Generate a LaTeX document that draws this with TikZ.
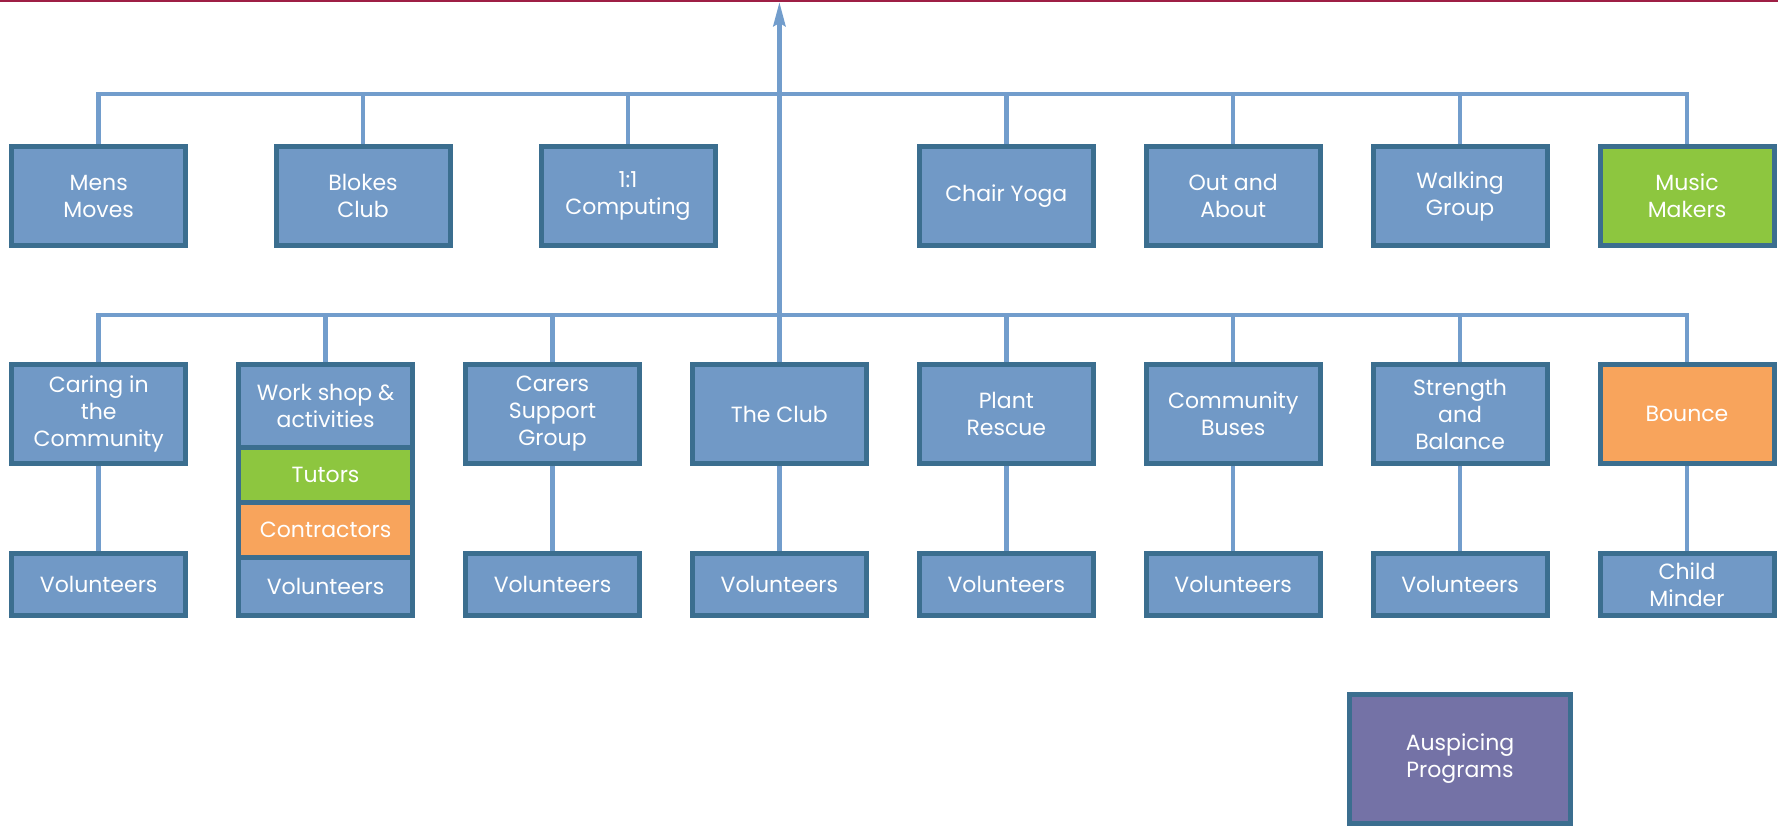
\documentclass[tikz,border=0pt]{standalone}
\usepackage{fontspec}
\setmainfont{Poppins}
\usetikzlibrary{positioning,arrows.meta}

\definecolor{boxblue}{HTML}{7199C6}
\definecolor{boxedge}{HTML}{3B6E8F}
\definecolor{busblue}{HTML}{729DCC}
\definecolor{boxgreen}{HTML}{8DC63F}
\definecolor{boxorange}{HTML}{F8A45C}
\definecolor{boxpurple}{HTML}{7472A6}
\definecolor{topred}{HTML}{9E1F45}

\tikzset{
  prog/.style={draw=boxedge, fill=boxblue, line width=5pt, text=white,
    align=center, minimum width=174pt, minimum height=99pt, inner sep=0pt,
    font=\fontsize{22}{27}\selectfont},
  vol/.style={prog, minimum height=62pt},
  bus/.style={draw=busblue, line width=4.5pt}
}

\begin{document}
\begin{tikzpicture}[x=1pt, y=-1pt]
\useasboundingbox (0,0) rectangle (1778,825);

% Linie oben
\draw[topred, line width=2pt] (0,1) -- (1778,1);

\coordinate (ub) at (0,94);
\coordinate (lb) at (0,315);

% obere Reihe
\node[prog] (mens)     at (98.7,196)  {Mens\\Moves};
\node[prog] (blokes)   at (363,196)   {Blokes\\Club};
\node[prog] (comp)     at (628,196)   {1:1\\Computing};
\node[prog] (yoga)     at (1006.3,196) {Chair Yoga};
\node[prog] (outabout) at (1233.2,196) {Out and\\About};
\node[prog] (walking)  at (1460.1,196) {Walking\\Group};
\node[prog, fill=boxgreen] (music) at (1687,196) {Music\\Makers};

% mittlere Reihe
\node[prog] (caring)   at (98.7,414)  {Caring in\\the\\Community};
\node[prog, minimum height=83pt] (works) at (325.6,406) {Work shop \&\\activities};
\node[prog, minimum height=55pt, fill=boxgreen, below=-5pt of works] (tutors) {Tutors};
\node[prog, minimum height=55pt, fill=boxorange, below=-5pt of tutors] (contr) {Contractors};
\node[prog, minimum height=58pt, below=-5pt of contr] (worksvol) {Volunteers};
\node[prog] (carers)   at (552.5,414) {Carers\\Support\\Group};
\node[prog] (club)     at (779.4,414) {The Club};
\node[prog] (plant)    at (1006.3,414) {Plant\\Rescue};
\node[prog] (buses)    at (1233.2,414) {Community\\Buses};
\node[prog] (strength) at (1460.1,414) {Strength\\and\\Balance};
\node[prog, fill=boxorange] (bounce) at (1687,414) {Bounce};

% untere Reihe
\node[vol] (caringvol)   at (98.7,584.5)   {Volunteers};
\node[vol] (carersvol)   at (552.5,584.5)  {Volunteers};
\node[vol] (clubvol)     at (779.4,584.5)  {Volunteers};
\node[vol] (plantvol)    at (1006.3,584.5) {Volunteers};
\node[vol] (busesvol)    at (1233.2,584.5) {Volunteers};
\node[vol] (strengthvol) at (1460.1,584.5) {Volunteers};
\node[vol] (minder)      at (1687,584.5)   {Child\\Minder};

\node[prog, fill=boxpurple, minimum width=221pt, minimum height=129pt] (ausp)
  at (1460,759) {Auspicing\\Programs};

% Verbindungen
\draw[bus] (mens.north) -- (mens.north |- ub) -- (music.north |- ub) -- (music.north);
\foreach \n in {blokes,comp,yoga,outabout,walking}
  \draw[bus] (\n.north) -- (\n.north |- ub);

\draw[bus] (caring.north) -- (caring.north |- lb) -- (bounce.north |- lb) -- (bounce.north);
\foreach \n in {works,carers,plant,buses,strength}
  \draw[bus] (\n.north) -- (\n.north |- lb);

\foreach \a/\b in {caring/caringvol,carers/carersvol,club/clubvol,plant/plantvol,
  buses/busesvol,strength/strengthvol,bounce/minder}
  \draw[bus] (\a.south) -- (\b.north);

\coordinate (top) at (779.4,2);
\draw[bus, -{Stealth[length=24pt, width=12pt, inset=3pt]}] (club.north) -- (top);

\end{tikzpicture}
\end{document}
